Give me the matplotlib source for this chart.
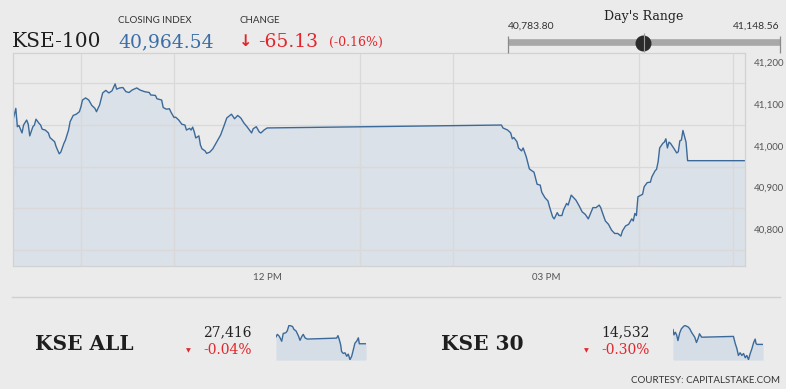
import numpy as np
import matplotlib.pyplot as plt

W, H = 786, 389
BG = '#ebebeb'
LINE = '#3b6a9a'
RED = '#e2262b'
BLUE = '#3b6ea8'
SERIF = 'DejaVu Serif'
SANS = 'Lato'

# KSE-100 intraday
kse100_times = [
    "09:16", "09:18", "09:19", "09:20", "09:22", "09:23", "09:25", "09:26", "09:27", "09:29",
    "09:30", "09:31", "09:33", "09:34", "09:35", "09:37", "09:39", "09:40", "09:43", "09:44",
    "09:46", "09:47", "09:49", "09:50", "09:52", "09:53", "09:55", "09:57", "09:59", "10:00",
    "10:01", "10:03", "10:05", "10:07", "10:09", "10:10", "10:12", "10:14", "10:16", "10:18",
    "10:20", "10:22", "10:23", "10:25", "10:27", "10:29", "10:31", "10:33", "10:36", "10:38",
    "10:41", "10:44", "10:45", "10:48", "10:49", "10:52", "10:53", "10:55", "10:57", "10:58",
    "11:00", "11:01", "11:03", "11:05", "11:07", "11:08", "11:10", "11:11", "11:12", "11:13",
    "11:14", "11:16", "11:17", "11:18", "11:20", "11:21", "11:23", "11:25", "11:27", "11:29",
    "11:30", "11:32", "11:34", "11:35", "11:37", "11:39", "11:41", "11:43", "11:45", "11:47",
    "11:48", "11:50", "11:51", "11:53", "11:55", "11:56", "11:58", "12:00", "14:31", "14:32",
    "14:35", "14:37", "14:38", "14:39", "14:41", "14:42", "14:44", "14:45", "14:47", "14:49",
    "14:50", "14:52", "14:54", "14:56", "14:57", "14:59", "15:01", "15:02", "15:04", "15:05",
    "15:07", "15:08", "15:10", "15:11", "15:13", "15:14", "15:16", "15:18", "15:19", "15:21",
    "15:23", "15:25", "15:27", "15:28", "15:30", "15:32", "15:34", "15:35", "15:36", "15:38",
    "15:40", "15:42", "15:44", "15:46", "15:48", "15:49", "15:51", "15:53", "15:55", "15:56",
    "15:57", "15:58", "15:59", "16:02", "16:03", "16:05", "16:07", "16:08", "16:10", "16:11",
    "16:12", "16:13", "16:15", "16:16", "16:17", "16:18", "16:19", "16:20", "16:22", "16:24",
    "16:25", "16:26", "16:27", "16:28", "16:30", "16:31", "17:08",
]
kse100_values = [
    41058, 41090, 41046, 41049, 41031, 41050, 41062, 41052, 41024, 41046,
    41050, 41064, 41054, 41050, 41040, 41038, 41031, 41020, 41010, 40998,
    40981, 40985, 41006, 41014, 41038, 41058, 41073, 41076, 41082, 41094,
    41110, 41115, 41110, 41097, 41090, 41082, 41098, 41127, 41133, 41127,
    41132, 41148.56, 41136, 41139, 41140, 41130, 41128, 41134, 41139, 41134,
    41130, 41128, 41122, 41121, 41113, 41110, 41092, 41088, 41089, 41081,
    41068, 41069, 41062, 41052, 41050, 41038, 41042, 41038, 41045, 41034,
    41019, 41024, 41002, 40993, 40988, 40982, 40985, 40993, 41006, 41019,
    41026, 41046, 41067, 41070, 41076, 41065, 41073, 41067, 41055, 41046,
    41041, 41031, 41041, 41046, 41033, 41031, 41038, 41043, 41050, 41043,
    41038, 41031, 41017, 41020, 41010, 40995, 40988, 40995, 40974, 40945,
    40942, 40937, 40908, 40906, 40889, 40876, 40868, 40854, 40830, 40825,
    40840, 40833, 40833, 40846, 40862, 40858, 40882, 40874, 40870, 40857,
    40842, 40836, 40825, 40834, 40852, 40852, 40858, 40852, 40841, 40820,
    40812, 40798, 40790, 40790, 40783.8, 40796, 40808, 40812, 40825, 40820,
    40838, 40833, 40878, 40884, 40902, 40912, 40913, 40926, 40940, 40944,
    40962, 40995, 41006, 41009, 41017, 40995, 41009, 41006, 40995, 40983,
    40986, 41012, 41014, 41037, 41009, 40964.54, 40964.54,
]

# sparklines
kseall_times = [
    "09:16", "09:23", "09:33", "09:46", "09:54", "10:07", "10:15", "10:24", "10:35", "10:43",
    "10:50", "11:01", "11:13", "11:22", "11:32", "11:39", "11:48", "12:00", "14:34", "14:41",
    "14:48", "14:55", "15:00", "15:09", "15:18", "15:27", "15:35", "15:44", "15:53", "16:02",
    "16:10", "16:19", "16:28", "16:33", "17:08",
]
kseall_values = [
    27438, 27446, 27440, 27424, 27449, 27451, 27457, 27475, 27473, 27471,
    27462, 27457, 27442, 27427, 27440, 27446, 27435, 27431, 27434, 27442,
    27429, 27413, 27391, 27385, 27387, 27376, 27383, 27365, 27376, 27398,
    27418, 27424, 27435, 27416, 27416,
]
kse30_times = [
    "09:16", "09:21", "09:28", "09:35", "09:42", "09:51", "10:00", "10:09", "10:18", "10:26",
    "10:35", "10:44", "10:53", "11:02", "11:10", "11:19", "11:28", "11:35", "11:46", "11:54",
    "14:33", "14:42", "14:51", "14:59", "15:08", "15:17", "15:26", "15:35", "15:43", "15:52",
    "16:01", "16:10", "16:19", "16:27", "16:31", "16:36", "17:08",
]
kse30_values = [
    14571, 14557, 14564, 14557, 14542, 14562, 14573, 14578, 14582, 14580,
    14578, 14573, 14564, 14557, 14551, 14537, 14548, 14560, 14551, 14551,
    14553, 14535, 14521, 14503, 14510, 14503, 14508, 14497, 14503, 14492,
    14508, 14521, 14537, 14546, 14535, 14532, 14532,
]

close_value = 40964.54
change = "-65.13"
change_pct = "(-0.16%)"
day_low, day_high = 40783.80, 41148.56
ytick_vals = [40800, 40900, 41000, 41100, 41200]
xtick_hours = [12, 15]
xtick_labels = ["12 PM", "03 PM"]


def to_hours(ts):
    return np.array([int(t[:2]) + int(t[3:]) / 60 for t in ts])


def px(x, y):
    # pixel position -> figure fraction
    return x / W, 1 - y / H


fig = plt.figure(figsize=(W / 100, H / 100), dpi=100, facecolor=BG)

# ---- main chart
x = to_hours(kse100_times)
y = np.array(kse100_values)
ax = fig.add_axes([12.7 / W, 1 - 266 / H, (745 - 12.7) / W, (266 - 53.3) / H])
ax.set_facecolor(BG)
ybot, ytop = 40712, 41222
ax.fill_between(x, y, ybot, color='#c9d7e6', alpha=0.45, lw=0)
ax.plot(x, y, color=LINE, lw=1)
ax.set_xlim(x[0], x[-1])
ax.set_ylim(ybot, ytop)

ax.set_yticks(np.arange(40750, 41201, 50), minor=True)
ax.set_xticks(np.arange(10, 18), minor=True)
ax.grid(which='minor', color='#d9d9d9', lw=0.9)
ax.set_yticks(ytick_vals, [f"{v:,}" for v in ytick_vals])
ax.set_xticks(xtick_hours, xtick_labels)
ax.yaxis.tick_right()
ax.tick_params(which='both', length=0)
ax.tick_params(axis='y', pad=6, labelsize=7, labelcolor='#555555')
ax.tick_params(axis='x', pad=5, labelsize=7, labelcolor='#555555')
for lab in ax.get_xticklabels() + ax.get_yticklabels():
    lab.set_fontfamily(SANS)
for s in ax.spines.values():
    s.set_color('#d2d2d2')
    s.set_linewidth(0.9)

# ---- header
fig.text(*px(12, 47), "KSE-100", family=SERIF, fontsize=14.5, color='#1e1e1e', va='baseline')
fig.text(*px(118, 22.7), "CLOSING INDEX", family=SANS, fontsize=7, color='#333333', va='baseline')
fig.text(*px(118, 47), f"{close_value:,.2f}", family=SERIF, fontsize=13.5, color=BLUE, va='baseline')
fig.text(*px(240, 22.7), "CHANGE", family=SANS, fontsize=7, color='#333333', va='baseline')
fig.text(*px(239, 46), "\u2193", family='DejaVu Sans', fontsize=11.5, color=RED, va='baseline',
         fontweight='bold')
fig.text(*px(258, 47), change, family=SERIF, fontsize=13.5, color=RED, va='baseline')
fig.text(*px(329, 46), change_pct, family=SERIF, fontsize=9, color=RED, va='baseline')

# ---- day's range slider
fig.text(*px(644, 20), "Day's Range", family=SERIF, fontsize=9, color='#222222',
         ha='center', va='baseline')
fig.text(*px(508, 28.3), f"{day_low:,.2f}", family=SANS, fontsize=7.5, color='#333333', va='baseline')
fig.text(*px(780, 28.3), f"{day_high:,.2f}", family=SANS, fontsize=7.5, color='#333333',
         ha='right', va='baseline')
sax = fig.add_axes([508 / W, 1 - 53 / H, 272 / W, 20 / H])
sax.set_xlim(day_low, day_high)
sax.set_ylim(0, 1)
sax.axis('off')
sax.plot([day_low, day_high], [0.53, 0.53], color='#a8a8a8', lw=4.8, solid_capstyle='butt')
sax.vlines([day_low, day_high], 0.02, 0.85, color='#8a8a8a', lw=0.9, clip_on=False)
sax.plot([close_value], [0.51], 'o', color='#2b2b2b', ms=10.5, clip_on=False)
sax.vlines([(day_low + day_high) / 2], 0.05, 1.0, color='#9a9a9a', lw=0.8)

# separator
fig.add_artist(plt.Line2D([12 / W, 780 / W], [1 - 297 / H] * 2, color='#cfcfcf', lw=1))

# ---- bottom row
def summary(name, name_x, value, pct, right_x, tri_x, times, vals, spark_x):
    fig.text(*px(name_x, 350), name, family=SERIF, fontsize=14.5, fontweight='bold',
             color='#1e1e1e', va='baseline')
    fig.text(*px(right_x, 336.7), value, family=SERIF, fontsize=10, color='#222222',
             ha='right', va='baseline')
    fig.text(*px(right_x, 354), pct, family=SERIF, fontsize=10, color=RED,
             ha='right', va='baseline')
    fig.text(*px(tri_x, 351), "\u25BC", family='DejaVu Sans', fontsize=4.5, color=RED,
             ha='center', va='center')
    a = fig.add_axes([spark_x / W, 1 - 360 / H, 90 / W, 35 / H])
    t = to_hours(times)
    v = np.array(vals)
    lo = v.min() - 1
    a.fill_between(t, v, lo, color='#d5dde6', lw=0)
    a.plot(t, v, color=LINE, lw=1)
    a.set_xlim(t[0], t[-1])
    a.set_ylim(lo, v.max() + 1)
    a.axis('off')


summary("KSE ALL", 35, "27,416", "-0.04%", 251.7, 188, kseall_times, kseall_values, 276)
summary("KSE 30", 441, "14,532", "-0.30%", 649.3, 586, kse30_times, kse30_values, 673)

fig.text(*px(780, 383.3), "COURTESY: CAPITALSTAKE.COM", family=SANS, fontsize=7,
         color='#333333', ha='right', va='baseline')

fig.savefig('out.png', dpi=100, facecolor=BG)
